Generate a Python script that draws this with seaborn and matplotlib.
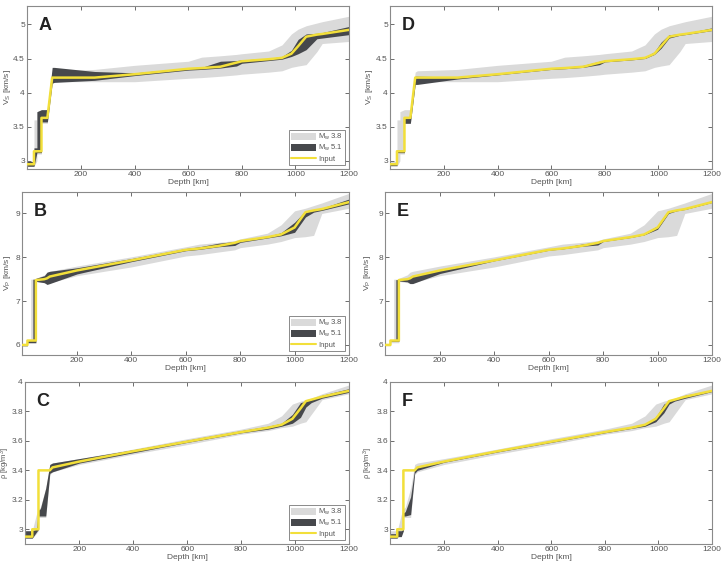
import numpy as np
import seaborn as sns
import matplotlib.pyplot as plt
from matplotlib.patches import Patch
from matplotlib.lines import Line2D
from matplotlib.ticker import FormatStrFormatter

# ---- S-wave velocity (panels A, D) ----
vs_depth = [0, 24, 24, 35, 35, 52, 52, 74, 92, 100, 250, 400, 600, 650, 720, 780, 800,
            900, 950, 985, 1010, 1040, 1080, 1100, 1200]
vs_input = [2.95, 2.95, 3.14, 3.14, 3.14, 3.14, 3.63, 3.63, 4.22, 4.22, 4.22, 4.27, 4.35,
            4.36, 4.38, 4.44, 4.46, 4.49, 4.51, 4.57, 4.68, 4.82, 4.85, 4.86, 4.92]
vs_38_lo = [2.92, 2.92, 2.92, 3.00, 3.10, 3.10, 3.55, 3.55, 4.12, 4.16, 4.16, 4.16, 4.21,
            4.22, 4.24, 4.26, 4.27, 4.30, 4.32, 4.37, 4.39, 4.41, 4.60, 4.72, 4.75]
vs_38_hi = [2.99, 2.99, 3.60, 3.60, 3.72, 3.75, 3.75, 3.75, 4.30, 4.32, 4.34, 4.40, 4.46,
            4.52, 4.54, 4.56, 4.57, 4.61, 4.70, 4.86, 4.93, 4.98, 5.02, 5.04, 5.12]
vs_51_lo_A = [2.92, 2.92, 2.92, 3.12, 3.12, 3.12, 3.57, 3.57, 4.14, 4.15, 4.18, 4.25, 4.33,
              4.34, 4.36, 4.39, 4.43, 4.47, 4.49, 4.53, 4.57, 4.63, 4.79, 4.80, 4.85]
vs_51_hi_A = [2.99, 2.99, 3.19, 3.19, 3.72, 3.75, 3.75, 3.75, 4.37, 4.37, 4.31, 4.29, 4.36,
              4.37, 4.46, 4.47, 4.48, 4.50, 4.53, 4.62, 4.78, 4.86, 4.87, 4.88, 4.97]
vs_51_lo_D = [2.93, 2.93, 3.12, 3.12, 3.12, 3.12, 3.55, 3.55, 4.12, 4.12, 4.20, 4.26, 4.34,
              4.35, 4.37, 4.41, 4.45, 4.48, 4.50, 4.56, 4.65, 4.80, 4.84, 4.85, 4.91]
vs_51_hi_D = [2.97, 2.97, 3.16, 3.16, 3.16, 3.16, 3.65, 3.65, 4.24, 4.24, 4.23, 4.28, 4.36,
              4.37, 4.40, 4.46, 4.47, 4.50, 4.52, 4.60, 4.74, 4.85, 4.86, 4.87, 4.95]

# ---- P-wave velocity (panels B, E) ----
vp_depth = [0, 18, 18, 30, 30, 38, 38, 49, 49, 80, 90, 100, 200, 400, 600, 650, 720, 780,
            800, 900, 950, 1000, 1040, 1070, 1100, 1200]
vp_input = [6.0, 6.0, 6.1, 6.1, 6.1, 6.1, 6.1, 6.1, 7.48, 7.5, 7.52, 7.56, 7.70, 7.93, 8.17,
            8.20, 8.26, 8.33, 8.37, 8.46, 8.52, 8.68, 9.03, 9.07, 9.10, 9.26]
vp_38_lo = [5.98, 5.98, 6.05, 6.05, 6.05, 6.05, 6.05, 6.05, 7.45, 7.42, 7.40, 7.42, 7.58,
            7.78, 8.03, 8.06, 8.12, 8.17, 8.22, 8.30, 8.36, 8.45, 8.47, 8.50, 9.00, 9.12]
vp_38_hi = [6.02, 6.02, 6.12, 6.12, 7.50, 7.50, 7.50, 7.50, 7.52, 7.60, 7.66, 7.68, 7.80,
            8.01, 8.24, 8.30, 8.34, 8.38, 8.42, 8.55, 8.74, 9.06, 9.12, 9.18, 9.24, 9.46]
vp_51_lo_B = [5.98, 5.98, 6.05, 6.05, 6.05, 6.05, 6.05, 6.05, 7.45, 7.42, 7.38, 7.40, 7.62,
              7.90, 8.15, 8.18, 8.24, 8.27, 8.34, 8.44, 8.49, 8.57, 8.92, 9.03, 9.07, 9.22]
vp_51_hi_B = [6.02, 6.02, 6.12, 6.12, 6.12, 6.12, 7.50, 7.50, 7.52, 7.58, 7.66, 7.68, 7.76,
              7.97, 8.20, 8.24, 8.32, 8.36, 8.39, 8.48, 8.56, 8.80, 9.06, 9.09, 9.12, 9.33]
vp_51_lo_E = [5.99, 5.99, 6.08, 6.08, 6.08, 6.08, 6.08, 6.08, 7.46, 7.44, 7.40, 7.40, 7.63,
              7.92, 8.16, 8.19, 8.25, 8.28, 8.36, 8.45, 8.51, 8.64, 9.00, 9.06, 9.09, 9.25]
vp_51_hi_E = [6.01, 6.01, 6.11, 6.11, 6.11, 6.11, 7.49, 7.49, 7.50, 7.51, 7.54, 7.58, 7.71,
              7.94, 8.19, 8.22, 8.30, 8.35, 8.38, 8.47, 8.54, 8.72, 9.05, 9.08, 9.11, 9.28]

# ---- density (panels C, F) ----
rho_depth = [0, 25, 25, 40, 40, 48, 48, 55, 75, 90, 100, 200, 400, 600, 800, 900, 950, 990,
             1020, 1040, 1060, 1100, 1200]
rho_input = [2.95, 2.95, 3.0, 3.0, 3.0, 3.0, 3.4, 3.4, 3.4, 3.4, 3.42, 3.46, 3.53, 3.595,
             3.66, 3.69, 3.71, 3.75, 3.82, 3.87, 3.88, 3.90, 3.94]
rho_38_lo = [2.94, 2.94, 2.94, 2.97, 2.97, 2.99, 3.08, 3.08, 3.08, 3.37, 3.39, 3.44, 3.51,
             3.575, 3.645, 3.67, 3.69, 3.70, 3.72, 3.73, 3.78, 3.88, 3.92]
rho_38_hi = [2.99, 2.99, 2.99, 3.10, 3.10, 3.14, 3.14, 3.15, 3.28, 3.44, 3.45, 3.48, 3.545,
             3.615, 3.68, 3.72, 3.77, 3.85, 3.87, 3.88, 3.89, 3.92, 3.98]
rho_51_lo_C = [2.94, 2.94, 2.94, 2.98, 2.98, 3.00, 3.09, 3.09, 3.09, 3.38, 3.39, 3.45, 3.52,
               3.59, 3.655, 3.68, 3.70, 3.72, 3.76, 3.83, 3.86, 3.89, 3.93]
rho_51_hi_C = [2.99, 2.99, 2.99, 3.00, 3.00, 3.13, 3.13, 3.14, 3.28, 3.44, 3.45, 3.48, 3.54,
               3.605, 3.67, 3.70, 3.72, 3.78, 3.86, 3.87, 3.88, 3.91, 3.955]
rho_51_lo_F = [2.94, 2.94, 2.95, 2.95, 2.95, 2.99, 3.09, 3.09, 3.10, 3.38, 3.40, 3.455, 3.525,
               3.59, 3.655, 3.685, 3.70, 3.73, 3.79, 3.85, 3.87, 3.89, 3.935]
rho_51_hi_F = [2.97, 2.97, 2.99, 2.99, 2.99, 3.00, 3.11, 3.12, 3.22, 3.41, 3.42, 3.465, 3.535,
               3.60, 3.665, 3.695, 3.715, 3.76, 3.85, 3.87, 3.88, 3.91, 3.945]

depth_ticks = [200, 400, 600, 800, 1000, 1200]
vs_ticks = [3, 3.5, 4, 4.5, 5]
vp_ticks = [6, 7, 8, 9]
rho_ticks = [3, 3.2, 3.4, 3.6, 3.8, 4]

sns.set_style("ticks")
plt.rcParams['font.family'] = ['Liberation Sans', 'DejaVu Sans']
plt.rcParams['mathtext.fontset'] = 'custom'
plt.rcParams['mathtext.rm'] = 'Liberation Sans'
plt.rcParams['mathtext.it'] = 'Liberation Sans:italic'

LIGHT = '#dadada'
DARK = '#46484c'
YELLOW = '#f2df3a'
GREY = '#555555'

W, H = 721, 563
fig = plt.figure(figsize=(W / 100, H / 100), dpi=100)

# (left, right, top, bottom, ylabel anchor x) in pixels
boxes = {
    'A': (27, 349, 6, 169, 13), 'B': (22, 349, 192, 355, 13), 'C': (25, 349, 382, 544, 12.5),
    'D': (390, 712, 6, 169, 375), 'E': (385, 712, 192, 355, 373), 'F': (390, 712, 382, 544, 375),
}

panels = [
    ('A', vs_depth, vs_input, vs_38_lo, vs_38_hi, vs_51_lo_A, vs_51_hi_A, (2.88, 5.27), vs_ticks,
     r'V$_\mathrm{S}$ [km/s]', True),
    ('B', vp_depth, vp_input, vp_38_lo, vp_38_hi, vp_51_lo_B, vp_51_hi_B, (5.77, 9.49), vp_ticks,
     r'V$_\mathrm{P}$ [km/s]', True),
    ('C', rho_depth, rho_input, rho_38_lo, rho_38_hi, rho_51_lo_C, rho_51_hi_C, (2.9, 4.0), rho_ticks,
     r'ρ [kg/m$^3$]', True),
    ('D', vs_depth, vs_input, vs_38_lo, vs_38_hi, vs_51_lo_D, vs_51_hi_D, (2.88, 5.27), vs_ticks,
     r'V$_\mathrm{S}$ [km/s]', False),
    ('E', vp_depth, vp_input, vp_38_lo, vp_38_hi, vp_51_lo_E, vp_51_hi_E, (5.77, 9.49), vp_ticks,
     r'V$_\mathrm{P}$ [km/s]', False),
    ('F', rho_depth, rho_input, rho_38_lo, rho_38_hi, rho_51_lo_F, rho_51_hi_F, (2.9, 4.0), rho_ticks,
     r'ρ [kg/m$^3$]', False),
]

for name, d, inp, lo38, hi38, lo51, hi51, ylim, yt, ylab, show_leg in panels:
    l, r, t, b, lx = boxes[name]
    ax = fig.add_axes([l / W, 1 - b / H, (r - l) / W, (b - t) / H])
    ax.fill_between(d, lo38, hi38, color=LIGHT, lw=0, zorder=1)
    ax.fill_between(d, lo51, hi51, color=DARK, lw=0, zorder=2)
    sns.lineplot(x=np.array(d, float), y=np.array(inp, float), ax=ax, color=YELLOW, lw=1.8,
                 sort=False, estimator=None, zorder=3)
    ax.set_xlim(-2, 1200)
    ax.set_ylim(*ylim)
    ax.set_xticks(depth_ticks)
    ax.set_yticks(yt)
    ax.yaxis.set_major_formatter(FormatStrFormatter('%g'))
    ax.set_xlabel('Depth [km]', fontsize=6, color=GREY, labelpad=0.5)
    ax.set_ylabel(ylab, fontsize=5.5 if 'ρ' in ylab else 6, color=GREY)
    ax.yaxis.set_label_coords((lx - l) / (r - l), 0.5)
    ax.tick_params(axis='both', labelsize=6, colors=GREY, direction='in', length=3,
                   width=0.6, top=True, right=True, pad=1.5)
    for sp in ax.spines.values():
        sp.set_color('#8a8a8a')
        sp.set_linewidth(0.8)
    ax.text(0.035, 0.93, name, transform=ax.transAxes, fontsize=13, fontweight='bold',
            va='top', ha='left', color='#222222')
    if show_leg:
        handles = [Patch(facecolor=LIGHT, edgecolor='none'),
                   Patch(facecolor=DARK, edgecolor='none'),
                   Line2D([], [], color=YELLOW, lw=1.5)]
        labels = [r'M$_\mathrm{w}$ 3.8', r'M$_\mathrm{w}$ 5.1', 'Input']
        leg = ax.legend(handles, labels, loc='lower right', fontsize=5.5, frameon=True,
                        fancybox=False, handlelength=3.2, handleheight=1.1, labelspacing=0.15,
                        handletextpad=0.3, borderpad=0.3, borderaxespad=0.5)
        leg.get_frame().set_edgecolor('#555555')
        leg.get_frame().set_linewidth(0.6)
        for txt in leg.get_texts():
            txt.set_color(GREY)

fig.savefig('out.png', dpi=100)
